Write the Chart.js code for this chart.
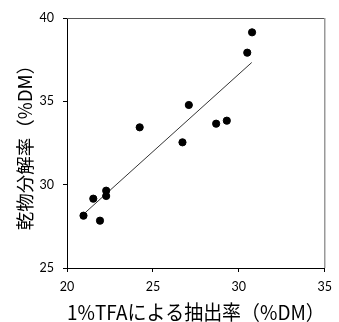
<!DOCTYPE html>
<html>
<head>
<meta charset="utf-8">
<script src="https://cdn.jsdelivr.net/npm/chart.js@4"></script>
<style>
  html, body { margin: 0; padding: 0; background: #fff; }
  #wrap { width: 339px; height: 322px; }
</style>
</head>
<body>
<div id="wrap"><canvas id="chart" width="339" height="322"></canvas></div>
<script>
// extraction rate with 1% TFA (%DM) vs dry matter degradability (%DM)
const tfaExtraction = [20.96, 21.53, 21.92, 22.28, 22.28, 24.23, 26.72, 27.09, 28.68, 29.30, 30.49, 30.77];
const dmDegradability = [28.14, 29.16, 27.84, 29.64, 29.32, 33.44, 32.54, 34.78, 33.66, 33.84, 37.92, 39.14];

// trend line end points
const trendX = [21.08, 30.75];
const trendY = [28.34, 37.33];

const xTicks = [20, 25, 30, 35];
const yTicks = [25, 30, 35, 40];

const xTitle = '1%TFAによる抽出率（%DM）';
const yTitle = '乾物分解率（%DM）';

const tickFont = { family: 'Lato, "Open Sans", sans-serif', size: 12.5 };
const xTitleFont = { family: '"Noto Sans CJK JP", sans-serif', size: 20, lineHeight: 1 };
const yTitleFont = { family: '"Noto Sans CJK JP", sans-serif', size: 18.5, lineHeight: 1 };

// draws the top and right edges of the plot box
const frame = {
  id: 'frame',
  afterDraw(chart) {
    const { ctx, chartArea: a } = chart;
    ctx.save();
    ctx.lineWidth = 1;
    ctx.strokeStyle = '#555';
    ctx.beginPath();
    ctx.moveTo(a.left, a.top + 0.5);
    ctx.lineTo(a.right, a.top + 0.5);
    ctx.stroke();
    ctx.strokeStyle = '#999';
    ctx.lineWidth = 1.5;
    ctx.beginPath();
    ctx.moveTo(a.right, a.top);
    ctx.lineTo(a.right, a.bottom);
    ctx.stroke();
    ctx.restore();
  }
};

new Chart(document.getElementById('chart').getContext('2d'), {
  type: 'scatter',
  data: {
    datasets: [{
      label: 'data',
      data: tfaExtraction.map((x, i) => ({ x: x, y: dmDegradability[i] })),
      backgroundColor: '#000',
      borderColor: '#000',
      pointRadius: 3.6,
      pointHoverRadius: 3.6
    }, {
      label: 'trend',
      type: 'line',
      data: trendX.map((x, i) => ({ x: x, y: trendY[i] })),
      borderColor: '#333',
      borderWidth: 1,
      pointRadius: 0,
      fill: false
    }]
  },
  plugins: [frame],
  options: {
    responsive: false,
    animation: false,
    events: [],
    layout: { padding: { left: 0, top: 18, right: 7, bottom: 0 } },
    plugins: { legend: { display: false }, tooltip: { enabled: false } },
    scales: {
      x: {
        type: 'linear',
        min: 20,
        max: 35,
        afterBuildTicks: s => { s.ticks = xTicks.map(v => ({ value: v })); },
        afterFit: s => { s.height = 54; },
        ticks: { color: '#000', font: tickFont, padding: 7, maxRotation: 0 },
        grid: { display: true, drawOnChartArea: false, drawTicks: true, tickLength: 4, color: '#000' },
        border: { display: true, color: '#000', width: 1 },
        title: { display: true, text: xTitle, color: '#000', font: xTitleFont, padding: { top: 0, bottom: 0 } }
      },
      y: {
        type: 'linear',
        min: 25,
        max: 40,
        afterBuildTicks: s => { s.ticks = yTicks.map(v => ({ value: v })); },
        afterFit: s => { s.width = 67; },
        ticks: { color: '#000', font: tickFont, padding: 9 },
        grid: { display: true, drawOnChartArea: false, drawTicks: true, tickLength: 4, color: '#000' },
        border: { display: true, color: '#000', width: 1 },
        title: { display: true, text: yTitle, color: '#000', font: yTitleFont, padding: { top: 16, bottom: 0 } }
      }
    }
  }
});
</script>
</body>
</html>
